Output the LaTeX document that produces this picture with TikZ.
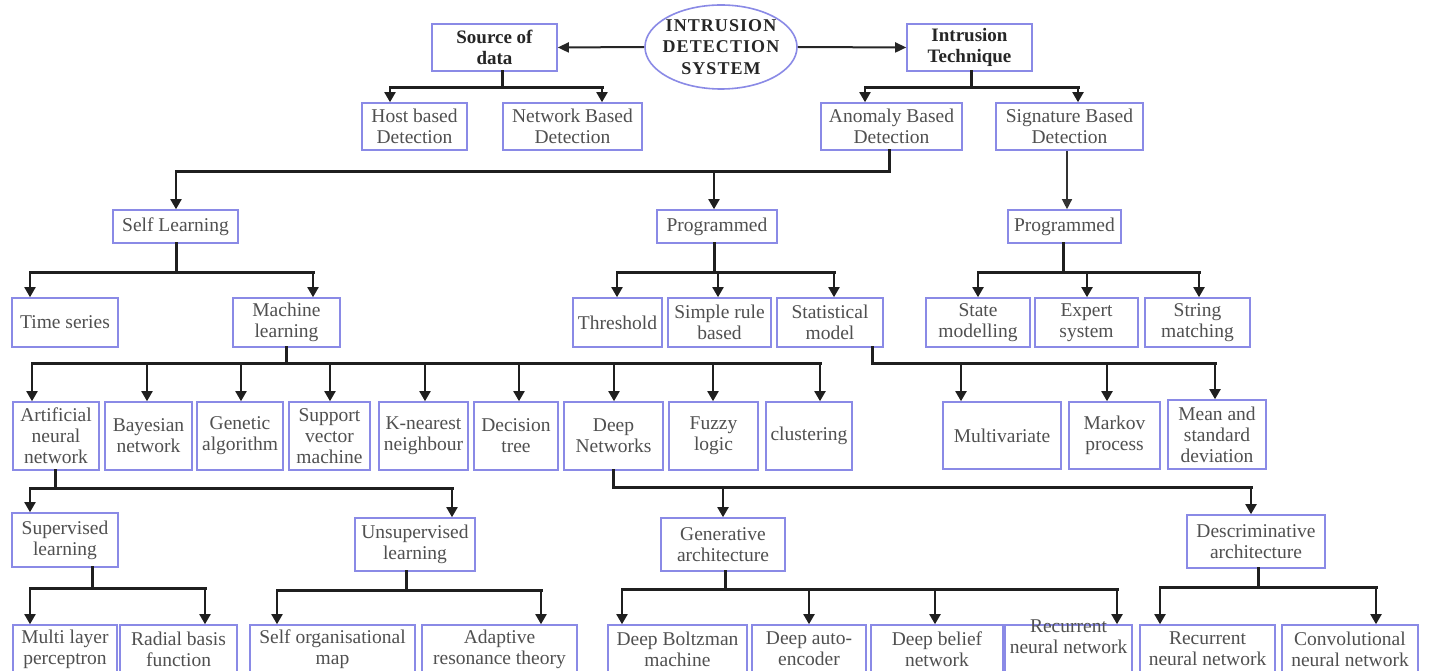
\documentclass[tikz,border=0pt]{standalone}
\usepackage{fontspec}
\setmainfont{Liberation Serif}
\newfontfamily\ellfont[LetterSpace=6]{Liberation Serif}
\usetikzlibrary{arrows.meta,shapes.geometric}
\definecolor{bord}{RGB}{138,138,230}
\definecolor{txt}{RGB}{80,80,80}
\tikzset{
  box/.style={draw=bord, line width=1.6pt, rectangle, inner sep=0pt, align=center,
    font=\fontsize{19.5}{21}\selectfont, text=txt},
  bbox/.style={box, font=\bfseries\fontsize{19}{21}\selectfont, text=black!85},
  lbl/.style={inner sep=0pt, align=center, font=\fontsize{19.5}{21}\selectfont, text=txt},
  ell/.style={ellipse, draw=bord, line width=1.6pt, inner sep=0pt,
    minimum width=152pt, minimum height=84pt},
  elltxt/.style={inner sep=0pt, align=center, text=black!85,
    font=\ellfont\bfseries\fontsize{18}{21.5}\selectfont},
  bus/.style={line width=3pt, black!88, line cap=rect},
  drop/.style={line width=1.9pt, black!88, -{Triangle[width=11pt,length=10pt]}},
  thindrop/.style={line width=1.3pt, black!80, -{Triangle[width=10pt,length=10pt]}},
  side/.style={line width=2pt, black!85, -{Triangle[width=10pt,length=11pt]}}
}
\newcommand\bx[7][box]{\node[#1,minimum width={#5-#3},minimum height={#6-#4}] (#2) at ({(#3+#5)/2},{(#4+#6)/2}) {#7};}
\newcommand\branch[4]{%
  \draw[bus] (#1.south -| #2,0) -- (#2,#3);
  \foreach \c/\x in {#4}{%
    \draw[bus] (#2,#3) -- (\x,#3);
    \draw[drop] (\x,#3) -- (\c.north -| \x,0);
  }}
\begin{document}
\begin{tikzpicture}[x=1pt,y=-1pt]
\fill[white] (0,0) rectangle (1435,671);
\useasboundingbox (0,0) rectangle (1435,671);
% top
\node[ell] (ids) at (721,47) {};
\node[elltxt] (idstxt) at (ids.center) {INTRUSION\\DETECTION\\SYSTEM};
\bx[bbox]{src}{432}{24}{557}{71}{Source of\\data}
\bx[bbox]{tech}{907}{24}{1032}{71}{Intrusion\\Technique}
\draw[side] (ids.west) -- (src.east);
\draw[side] (ids.east) -- (tech.west);
% level 1
\bx{host}{362}{103}{467}{150}{Host based\\Detection}
\bx{net}{503}{103}{642}{150}{Network Based\\Detection}
\bx{anom}{821}{103}{962}{150}{Anomaly Based\\Detection}
\bx{sig}{996}{103}{1143}{150}{Signature Based\\Detection}
\branch{src}{502}{88}{host/390,net/602}
\branch{tech}{971}{88}{anom/865,sig/1078}
% level 2
\bx{self}{113}{210}{238}{243}{Self Learning}
\bx{prog}{657}{210}{777}{243}{Programmed}
\bx{progb}{1008}{210}{1121}{243}{Programmed}
\branch{anom}{889}{172}{self/176,prog/714}
\draw[thindrop] (sig.south -| 1067,0) -- (progb.north -| 1067,0);
% level 3
\bx{ts}{12}{298}{118}{347}{Time series}
\bx{ml}{233}{298}{340}{347}{Machine\\learning}
\bx{thr}{573}{298}{662}{347}{Threshold}
\bx{srb}{668}{298}{771}{347}{Simple rule\\based}
\bx{stat}{777}{298}{883}{347}{Statistical\\model}
\bx{sm}{926}{298}{1030}{347}{State\\modelling}
\bx{es}{1035}{298}{1138}{347}{Expert\\system}
\bx{strm}{1145}{298}{1250}{347}{String\\matching}
\branch{self}{176}{272}{ts/30,ml/313}
\branch{prog}{714}{272}{thr/617,srb/718,stat/834}
\branch{progb}{1063}{272}{sm/978,es/1087,strm/1199}
% level 4
\bx{ann}{13}{402}{99}{470}{Artificial\\neural\\network}
\bx{bay}{105}{402}{192}{470}{Bayesian\\network}
\bx{gen}{197}{402}{283}{470}{Genetic\\algorithm}
\bx{svm}{289}{402}{370}{470}{Support\\vector\\machine}
\bx{knn}{379}{402}{468}{470}{K-nearest\\neighbour}
\bx{dt}{474}{402}{558}{470}{Decision\\tree}
\bx{dn}{564}{402}{663}{470}{Deep\\Networks}
\bx{fz}{669}{402}{758}{470}{Fuzzy\\logic}
\bx{cl}{766}{402}{852}{470}{clustering}
\bx{mv}{943}{402}{1061}{469}{Multivariate}
\bx{mk}{1069}{402}{1160}{469}{Markov\\process}
\bx{msd}{1168}{400}{1266}{469}{Mean and\\standard\\deviation}
\branch{ml}{286}{363}{ann/32,bay/147,gen/241,svm/330,knn/425,dt/519,dn/614,fz/713,cl/820}
\branch{stat}{872}{363}{mv/961,mk/1107,msd/1215}
% level 5
\bx{sup}{12}{513}{118}{567}{Supervised\\learning}
\bx{uns}{355}{518}{475}{571}{Unsupervised\\learning}
\bx{gar}{661}{518}{785}{571}{Generative\\architecture}
\bx{dar}{1187}{515}{1325}{568}{Descriminative\\architecture}
\branch{ann}{55}{488}{sup/30,uns/452}
\branch{dn}{613}{487}{gar/723,dar/1251}
% level 6
\bx{mlp}{13}{625}{117}{673}{Multi layer\\perceptron}
\bx{rbf}{120}{625}{237}{673}{Radial basis\\function}
\bx{som}{250}{625}{415}{673}{Self organisational\\map}
\bx{art}{422}{625}{577}{673}{Adaptive\\resonance theory}
\bx{dbm}{608}{625}{747}{673}{Deep Boltzman\\machine}
\bx{dae}{752}{625}{866}{673}{Deep auto-\\encoder}
\bx{dbn}{871}{625}{1003}{673}{Deep belief\\network}
\bx{rnna}{1005}{625}{1132}{673}{}
\node[lbl] (rnnatxt) at (1068.5,637) {Recurrent\\neural network};
\bx{rnnb}{1140}{625}{1275}{673}{Recurrent\\neural network}
\bx{cnn}{1282}{625}{1418}{673}{Convolutional\\neural network}
\branch{sup}{92}{588}{mlp/30,rbf/205}
\branch{uns}{406}{590}{som/277,art/541}
\branch{gar}{725}{589}{dbm/622,dae/809,dbn/935,rnna/1117}
\branch{dar}{1258}{587}{rnnb/1160,cnn/1376}
\end{tikzpicture}
\end{document}
